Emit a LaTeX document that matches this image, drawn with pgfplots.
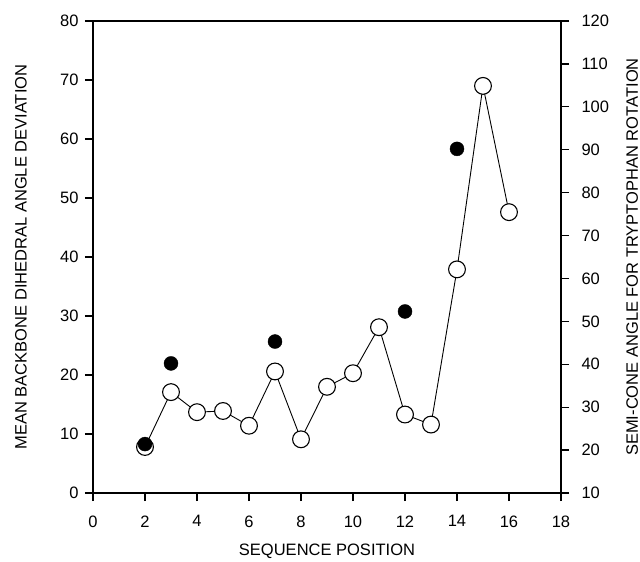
\documentclass[border=0pt]{standalone}
\usepackage{pgfplots}
\pgfplotsset{compat=1.18}
\usepackage{fontspec}
\setmainfont{Liberation Sans}
\begin{document}
\begin{tikzpicture}
\pgfplotsset{
  every axis/.append style={scale only axis, width=468pt, height=472pt,
    xmin=0, xmax=18,
    /pgf/number format/assume math mode=true,
    tick align=outside, major tick length=8pt,
    every tick/.style={black, line width=1.2pt},
    axis line style={line width=1.4pt},
    tick label style={font=\fontsize{16.5}{19}\selectfont},
    label style={font=\fontsize{16.5}{20}\selectfont}},
}
\begin{axis}[
  ymin=0, ymax=80, ytick={0,10,...,80}, xtick={0,2,...,18},
  xtick pos=bottom, ytick pos=left,
  xticklabel style={yshift=-11pt}, yticklabel style={xshift=-3pt},
  xlabel={SEQUENCE POSITION},
  ylabel={MEAN BACKBONE DIHEDRAL ANGLE DEVIATION},
  xlabel style={at={(axis description cs:0.5,-0.123)}, anchor=center},
  ylabel style={at={(axis description cs:-0.154,0.5)}, anchor=center}]
\addplot[black, line width=0.9pt, mark=*, mark size=8.4pt,
  mark options={fill=white, line width=1.1pt}] coordinates {
  (2,7.8) (3,17.1) (4,13.7) (5,13.9) (6,11.4) (7,20.6) (8,9.1) (9,18.0)
  (10,20.3) (11,28.1) (12,13.3) (13,11.6) (14,37.9) (15,69.0) (16,47.6)};
\coordinate (sw) at (rel axis cs:0,0);
\coordinate (ne) at (rel axis cs:1,1);
\end{axis}
\begin{axis}[
  ymin=10, ymax=120, ytick={10,20,...,120},
  axis y line*=right, axis x line=none,
  yticklabel style={xshift=9pt},
  ylabel={SEMI-CONE ANGLE FOR TRYPTOPHAN ROTATION},
  ylabel style={at={(axis description cs:1.152,0.5)}, anchor=center}]
\addplot[only marks, mark=*, mark size=7pt, black] coordinates {
  (2,21.4) (3,40.2) (7,45.3) (12,52.3) (14,90.2)};
\end{axis}
\pgfresetboundingbox
\path[use as bounding box] ([shift={(-93pt,-69pt)}]sw) rectangle ([shift={(79pt,21pt)}]ne);
\end{tikzpicture}
\end{document}
